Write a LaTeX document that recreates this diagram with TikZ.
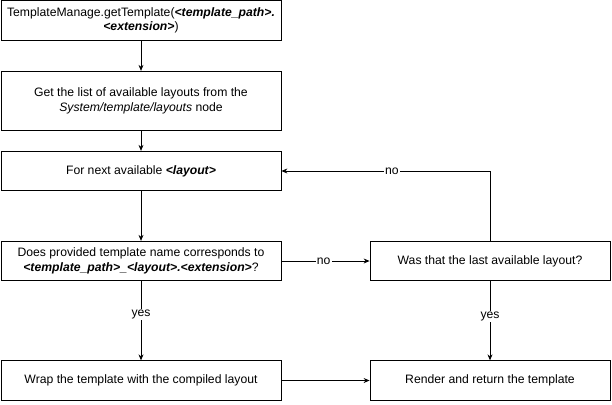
\documentclass[tikz,border=0pt]{standalone}
\usepackage{fontspec}
\setmainfont{Liberation Sans}
\usetikzlibrary{arrows.meta}

\begin{document}
\begin{tikzpicture}[x=1pt,y=-1pt,
		stepbox/.style={shape=rectangle,draw=black,line width=0.8pt,minimum width=280pt,minimum height=39.5pt,inner sep=1pt,align=center,font=\fontsize{12.2}{14.5}\selectfont},
		flow/.style={-{Stealth[length=6pt,width=5pt]},line width=0.8pt},
		lbl/.style={fill=white,inner sep=1pt,font=\fontsize{12.2}{14}\selectfont}]
			\useasboundingbox (0,0) rectangle (612,404);
			\node[stepbox] (call) at (141,20.5) {TemplateManage.getTemplate(\textbf{\textit{<template\_path>.}}\\\textbf{\textit{<extension>}})};
			\node[stepbox,minimum height=59.5pt] (list) at (141,101) {Get the list of available layouts from the\\\textit{System/template/layouts} node};
			\node[stepbox] (next) at (141,171) {For next available \textbf{\textit{<layout>}}};
			\node[stepbox] (match) at (141,261) {Does provided template name corresponds to\\\textbf{\textit{<template\_path>\_<layout>.<extension>}}?};
			\node[stepbox,minimum width=240pt] (last) at (490,261) {Was that the last available layout?};
			\node[stepbox] (wrap) at (141,380.5) {Wrap the template with the compiled layout};
			\node[stepbox,minimum width=240pt] (render) at (490,380.5) {Render and return the template};
			\coordinate (turn) at (490,171);

			%% lines
			\draw[flow] (call) -- (list);
			\draw[flow] (list) -- (next);
			\draw[flow] (next) -- (match);
			\draw[flow] (match) -- node[lbl,pos=0.42] {yes} (wrap);
			\draw[flow] (match) -- node[lbl,pos=0.48] {no} (last);
			\draw[flow] (last.north) -- (turn) -- node[lbl,pos=0.47] {no} (next.east);
			\draw[flow] (last) -- node[lbl,pos=0.45] {yes} (render);
			\draw[flow] (wrap) -- (render);
		\end{tikzpicture}
\end{document}
